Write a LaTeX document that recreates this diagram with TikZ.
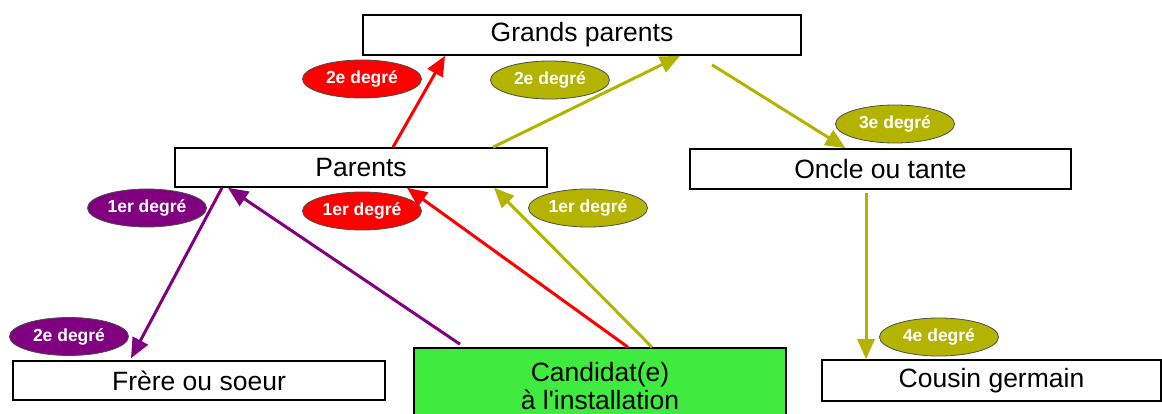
\documentclass[tikz,border=0pt]{standalone}
\usepackage{fontspec}
\setmainfont{Liberation Sans}
\usetikzlibrary{arrows.meta,shapes.geometric}
\definecolor{cred}{HTML}{FF0000}
\definecolor{colive}{HTML}{B4B400}
\definecolor{cpurple}{HTML}{800080}
\definecolor{cgreen}{HTML}{3FEB3F}
\tikzset{
  box/.style={draw=black, line width=1.6pt, fill=white, rectangle, inner sep=0pt,
    font=\fontsize{26.5}{28}\selectfont, align=center},
  tag/.style={ellipse, draw=black!70, line width=0.8pt, inner sep=0pt,
    minimum width=119pt, minimum height=38pt, text=white,
    font=\bfseries\fontsize{17.5}{19}\selectfont},
  conn/.style={line width=3pt, -{Triangle[length=20pt,width=17pt]}},
}
\begin{document}
\begin{tikzpicture}[x=1pt,y=-1pt]
\useasboundingbox (0,0) rectangle (1162,414);
\clip (0,0) rectangle (1162,414);
% boxes
\node[box, minimum width=438pt, minimum height=40pt] (gp) at (582,35) {Grands parents};
\node[box, minimum width=372pt, minimum height=39pt] (parents) at (361,167.5) {Parents};
\node[box, minimum width=381pt, minimum height=40pt] (oncle) at (880.5,169) {Oncle ou tante};
\node[box, minimum width=372pt, minimum height=39pt] (frere) at (199,380.5) {Frère ou soeur};
\node[box, minimum width=372pt, minimum height=76pt, fill=cgreen] (cand) at (600,386) {Candidat(e)\\à l\textquotesingle installation};
\node[box, minimum width=339pt, minimum height=41pt] (cousin) at (991.5,380.5) {Cousin germain};
% connectors
\draw[conn, cred] ([xshift=32pt]parents.north) -- ([xshift=-137pt]gp.south);
\draw[conn, colive] ([xshift=132pt]parents.north) -- ([xshift=98pt]gp.south);
\draw[conn, colive] ([xshift=130pt,yshift=-9pt]gp.south) -- ([xshift=-35pt]oncle.north);
\draw[conn, colive] ([xshift=-14.5pt,yshift=-3pt]oncle.south) -- ([xshift=-125.5pt]cousin.north);
\draw[conn, cpurple] ([xshift=-139pt]parents.south) -- ([xshift=-68pt,yshift=2pt]frere.north);
\draw[conn, cpurple] ([xshift=-140pt,yshift=3pt]cand.north) -- ([xshift=-133pt]parents.south);
\draw[conn, cred] ([xshift=28pt]cand.north) -- ([xshift=46pt]parents.south);
\draw[conn, colive] ([xshift=52pt]cand.north) -- ([xshift=133pt]parents.south);
% tags
\node[tag, fill=cred] (t1) at (362,79) {2e degré};
\node[tag, fill=colive] (t2) at (550,80) {2e degré};
\node[tag, fill=colive] (t3) at (895,124) {3e degré};
\node[tag, fill=colive] (t4) at (939,337) {4e degré};
\node[tag, fill=cpurple] (t5) at (147,208) {1er degré};
\node[tag, fill=cpurple] (t6) at (69,336.5) {2e degré};
\node[tag, fill=cred] (t7) at (362,211) {1er degré};
\node[tag, fill=colive] (t8) at (588,208) {1er degré};
\end{tikzpicture}
\end{document}
